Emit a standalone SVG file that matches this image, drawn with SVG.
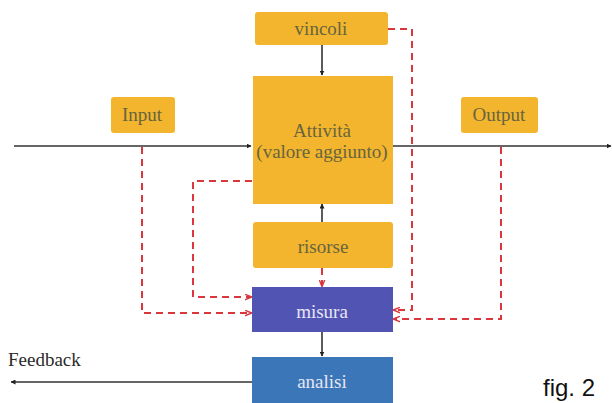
<svg xmlns="http://www.w3.org/2000/svg" width="612" height="403" viewBox="0 0 612 403">
<style>
.y{fill:#f2b52d}
.t{font-family:"Liberation Serif","Times New Roman",serif;font-size:19px;text-anchor:middle}
.ty{fill:#67643f}
.tw{fill:#e6e6f5}
.blk{stroke:#333;stroke-width:1.6;fill:none}
.red{stroke:#d9363e;stroke-width:2;stroke-dasharray:7 5;fill:none}
</style>
<defs>
<marker id="ab" viewBox="0 0 10 10" refX="9" refY="5" markerWidth="5" markerHeight="5" orient="auto" markerUnits="userSpaceOnUse"><path d="M0,0L10,5L0,10z" fill="#222"/></marker>
<marker id="ar" viewBox="0 0 10 10" refX="9" refY="5" markerWidth="7" markerHeight="7" orient="auto" markerUnits="userSpaceOnUse"><path d="M0,1L10,5L0,9" fill="none" stroke="#d9363e" stroke-width="2"/></marker>
</defs>
<rect width="612" height="403" fill="#fff"/>
<g id="connectors">
<path class="blk" d="M14,146H251" marker-end="url(#ab)"/>
<path class="blk" d="M393,146H611" marker-end="url(#ab)"/>
<path class="blk" d="M252,382H11" marker-end="url(#ab)"/>
<path class="blk" d="M322,45V75" marker-end="url(#ab)"/>
<path class="blk" d="M322,222V204" marker-end="url(#ab)"/>
<path class="blk" d="M322,332V356" marker-end="url(#ab)"/>
<path class="red" d="M322,268V286" marker-end="url(#ar)"/>
<path class="red" d="M388,29H412V310H394" marker-end="url(#ar)"/>
<path class="red" d="M501,147V319H394" marker-end="url(#ar)"/>
<path class="red" d="M142,147V313H251" marker-end="url(#ar)"/>
<path class="red" d="M252,181H193V297H251" marker-end="url(#ar)"/>
</g>
<g id="vincoli"><rect class="y" x="255" y="12" width="133" height="33" rx="3"/><text class="t ty" x="321" y="35">vincoli</text></g>
<g id="attivita"><rect class="y" x="253" y="76" width="140" height="128"/><text class="t ty" x="322" y="137">Attività</text><text class="t ty" x="322" y="158">(valore aggiunto)</text></g>
<g id="input"><rect class="y" x="111" y="97" width="64" height="36" rx="3"/><text class="t ty" x="142" y="121">Input</text></g>
<g id="output"><rect class="y" x="461" y="97" width="77" height="36" rx="3"/><text class="t ty" x="499" y="121">Output</text></g>
<g id="risorse"><rect class="y" x="253" y="222" width="140" height="46" rx="3"/><text class="t ty" x="323" y="253">risorse</text></g>
<g id="misura"><rect x="252" y="287" width="141" height="45" fill="#5254b4"/><text class="t tw" x="322" y="318">misura</text></g>
<g id="analisi"><rect x="252" y="357" width="141" height="46" fill="#3b76b8"/><text class="t tw" x="322" y="388">analisi</text></g>
<g id="feedback"><text x="8" y="366" font-family="Liberation Serif,serif" font-size="19" fill="#2a2a2a">Feedback</text></g>
<text x="543" y="396" font-family="Liberation Sans,Arial,sans-serif" font-size="24" fill="#111">fig. 2</text>
</svg>
